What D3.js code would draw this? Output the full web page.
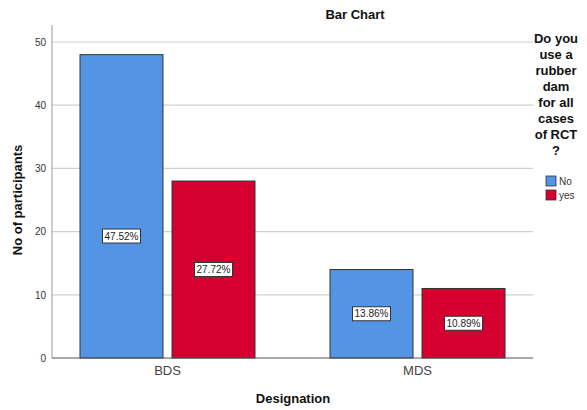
<!DOCTYPE html>
<html><head><meta charset="utf-8">
<script src="https://cdn.jsdelivr.net/npm/d3@7"></script>
<style>body{margin:0;background:#fff}svg{display:block;font-family:"Liberation Sans",Arial,sans-serif}</style>
</head><body><svg id="c" width="587" height="410"></svg>
<script>
const categories = ["BDS", "MDS"];
const seriesNames = ["No", "yes"];
const noValues = [48, 14];
const yesValues = [28, 11];
const noPercents = ["47.52%", "13.86%"];
const yesPercents = ["27.72%", "10.89%"];
const yTicks = [0, 10, 20, 30, 40, 50];
const legendTitleLines = ["Do you", "use a", "rubber", "dam", "for all", "cases", "of RCT", "?"];
const colors = ["#5394e4", "#d5002f"];

(function () {
const svg = d3.select("#c");
const pLeft = 52, pRight = 533, pTop = 25, pBottom = 358;
const y = d3.scaleLinear().domain([0, 50]).range([pBottom, 42]);
const x0 = d3.scaleBand().domain(categories).range([pLeft, pRight]).paddingInner(0.3).paddingOuter(0.112);
const x1 = d3.scaleBand().domain(seriesNames).range([0, x0.bandwidth()]).paddingInner(0.098);

svg.append("g").selectAll("line").data(yTicks.filter(d => d > 0)).join("line")
  .attr("x1", pLeft).attr("x2", pRight).attr("y1", d => y(d)).attr("y2", d => y(d))
  .attr("stroke", "#d0d0d0").attr("stroke-width", 1.2);

const ya = svg.append("g").attr("transform", `translate(${pLeft},0)`)
  .call(d3.axisLeft(y).tickValues(yTicks).tickSize(0).tickPadding(6));
ya.select(".domain").remove();
ya.selectAll("text").attr("font-size", 10).attr("fill", "#333").attr("font-family", "Liberation Sans, Arial, sans-serif");
svg.append("line").attr("x1", pLeft).attr("x2", pLeft).attr("y1", pTop).attr("y2", pBottom)
  .attr("stroke", "#aaa").attr("stroke-width", 1.2);

const rows = categories.map((c, i) => [
  {cat: c, s: "No", v: noValues[i], p: noPercents[i], ci: 0},
  {cat: c, s: "yes", v: yesValues[i], p: yesPercents[i], ci: 1}
]).flat();

svg.append("g").selectAll("rect").data(rows).join("rect")
  .attr("x", d => x0(d.cat) + x1(d.s))
  .attr("y", d => y(d.v))
  .attr("width", x1.bandwidth())
  .attr("height", d => y(0) - y(d.v))
  .attr("fill", d => colors[d.ci])
  .attr("stroke", "#333").attr("stroke-width", 1);

svg.append("line").attr("x1", pLeft).attr("x2", pRight).attr("y1", pBottom).attr("y2", pBottom)
  .attr("stroke", "#555").attr("stroke-width", 1.2);

const lg = svg.append("g").selectAll("g").data(rows).join("g")
  .attr("transform", d => {
    const cx = x0(d.cat) + x1(d.s) + x1.bandwidth() / 2;
    const mid = Math.max((y(d.v) + y(0)) / 2, y(19.3));
    return `translate(${cx},${mid})`;
  });
lg.append("rect").attr("x", -19).attr("y", -7).attr("width", 38).attr("height", 14)
  .attr("fill", "#fff").attr("stroke", "#333").attr("stroke-width", 1);
lg.append("text").text(d => d.p).attr("text-anchor", "middle").attr("dy", "0.35em")
  .attr("font-size", 10).attr("fill", "#222");

svg.append("g").selectAll("text").data(categories).join("text")
  .attr("x", d => x0(d) + x0.bandwidth() / 2).attr("y", 375)
  .attr("text-anchor", "middle").attr("font-size", 13).attr("fill", "#444").text(d => d);

svg.append("text").attr("x", 355).attr("y", 19).attr("text-anchor", "middle")
  .attr("font-size", 13).attr("font-weight", "bold").attr("fill", "#111").text("Bar Chart");
svg.append("text").attr("x", 293).attr("y", 403).attr("text-anchor", "middle")
  .attr("font-size", 13).attr("font-weight", "bold").attr("fill", "#111").text("Designation");
svg.append("text").attr("transform", "translate(22,200) rotate(-90)").attr("text-anchor", "middle")
  .attr("font-size", 13).attr("font-weight", "bold").attr("fill", "#111").text("No of participants");

const leg = svg.append("g");
leg.selectAll("text.t").data(legendTitleLines).join("text").attr("class", "t")
  .attr("x", 556).attr("y", (d, i) => 43 + i * 16).attr("text-anchor", "middle")
  .attr("font-size", 13).attr("font-weight", "bold").attr("fill", "#111").text(d => d);
const items = leg.selectAll("g.i").data(seriesNames).join("g").attr("class", "i")
  .attr("transform", (d, i) => `translate(546,${176 + i * 14})`);
items.append("rect").attr("width", 10).attr("height", 10)
  .attr("fill", (d, i) => colors[i]).attr("stroke", "#333").attr("stroke-width", 0.8);
items.append("text").attr("x", 13).attr("y", 9).attr("font-size", 10).attr("fill", "#333").text(d => d);
})();
</script></body></html>
